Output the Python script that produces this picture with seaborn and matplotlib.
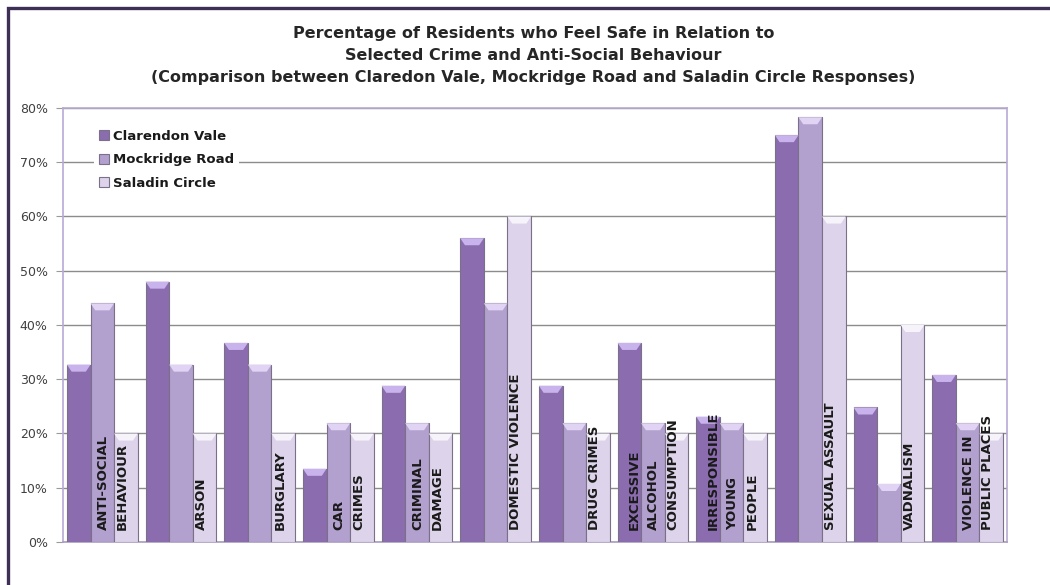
import numpy as np
import pandas as pd
import matplotlib
matplotlib.use("Agg")
import matplotlib.pyplot as plt
from matplotlib.patches import Rectangle, Polygon
from matplotlib.ticker import FuncFormatter
import seaborn as sns

# data (percent of residents feeling safe)
categories = [
    "ANTI-SOCIAL\nBEHAVIOUR", "ARSON", "BURGLARY", "CAR\nCRIMES",
    "CRIMINAL\nDAMAGE", "DOMESTIC VIOLENCE", "DRUG CRIMES",
    "EXCESSIVE\nALCOHOL\nCONSUMPTION", "IRRESPONSIBLE\nYOUNG\nPEOPLE",
    "SEXUAL ASSAULT", "VADNALISM", "VIOLENCE IN\nPUBLIC PLACES",
]
clarendon_vale = [32.7, 48.0, 36.7, 13.5, 28.8, 56.0, 28.8, 36.7, 23.1, 75.0, 24.8, 30.8]
mockridge_road = [44.0, 32.7, 32.7, 21.9, 21.9, 44.0, 21.9, 21.9, 21.9, 78.3, 10.7, 21.9]
saladin_circle = [20.0, 20.0, 20.0, 20.0, 20.0, 60.0, 20.0, 20.0, 20.0, 60.0, 40.0, 20.0]
series_names = ["Clarendon Vale", "Mockridge Road", "Saladin Circle"]
y_ticks = [0, 10, 20, 30, 40, 50, 60, 70, 80]

palette = ["#8a6caf", "#b2a0ce", "#ddd3ea"]
top_light = ["#c9b3ec", "#e0d3f3", "#f7f3fb"]

df = pd.DataFrame({
    "category": categories * 3,
    "area": sum([[n] * len(categories) for n in series_names], []),
    "value": clarendon_vale + mockridge_road + saladin_circle,
})

sns.set_style("white")
plt.rcParams["font.family"] = ["DejaVu Sans"]

fig = plt.figure(figsize=(10.5, 5.85), dpi=100)
ax = fig.add_axes([0.06, 0.0735, 0.899, 0.7419])

sns.barplot(data=df, x="category", y="value", hue="area", hue_order=series_names,
            palette=palette, width=0.9, saturation=1, edgecolor="#7a7088",
            linewidth=0.8, errorbar=None, ax=ax, zorder=3)

# small bevel at the top of each bar
for i, cont in enumerate(ax.containers):
    for bar in cont:
        x0, w, h = bar.get_x(), bar.get_width(), bar.get_height()
        bev = Polygon([(x0, h), (x0 + w, h), (x0 + w * 0.8, h - 1.3), (x0 + w * 0.2, h - 1.3)],
                      closed=True, facecolor=top_light[i], edgecolor="none", zorder=4)
        ax.add_patch(bev)

# category labels written inside the bars
for i, lab in enumerate(categories):
    ax.text(i + 0.34, 2.3, lab, rotation=90, ha="right", va="bottom",
            multialignment="left", fontsize=9.5, fontweight="bold",
            color="#1a1a1a", linespacing=1.65, zorder=5)

ax.set_xlim(-0.5, len(categories) - 0.5)
ax.set_ylim(0, 80)
ax.set_yticks(y_ticks)
ax.yaxis.set_major_formatter(FuncFormatter(lambda v, p: f"{v:.0f}%"))
ax.tick_params(axis="y", length=5, color="#9a9a9a", labelsize=9, labelcolor="#404040",
               direction="out", left=True, pad=6)
ax.tick_params(axis="x", bottom=False, labelbottom=False)
ax.set_xlabel("")
ax.set_ylabel("")
ax.yaxis.grid(True, color="#8c8c8c", linewidth=1.0, zorder=0)
ax.set_axisbelow(True)

for side in ["left", "top", "right"]:
    ax.spines[side].set_color("#b9a9d6")
    ax.spines[side].set_linewidth(1.2)
ax.spines["bottom"].set_color("#a99cbf")
ax.spines["bottom"].set_linewidth(1.2)

handles, labels = ax.get_legend_handles_labels()
leg = ax.legend(handles, labels, loc="upper left", bbox_to_anchor=(0.033, 0.962),
                frameon=True, facecolor="white", edgecolor="none", framealpha=1,
                handlelength=0.75, handleheight=0.75, handletextpad=0.25,
                labelspacing=0.8, borderpad=0.4, borderaxespad=0,
                prop={"size": 9.5, "weight": "bold"})
leg.set_zorder(6)
for t in leg.get_texts():
    t.set_color("#1a1a1a")

fig.suptitle("Percentage of Residents who Feel Safe in Relation to\n"
             "Selected Crime and Anti-Social Behaviour\n"
             "(Comparison between Claredon Vale, Mockridge Road and Saladin Circle Responses)",
             x=0.508, y=0.956, fontsize=11.5, fontweight="bold", color="#262626",
             linespacing=1.58)

# dark frame round the chart (clipped at right and bottom like the original)
fig.patches.append(Rectangle((8 / 1050, -0.2), 1.2, 1.2 - 7.5 / 585,
                             transform=fig.transFigure, fill=False,
                             edgecolor="#3d2f55", linewidth=2.4))

fig.savefig("out.png", dpi=100)
